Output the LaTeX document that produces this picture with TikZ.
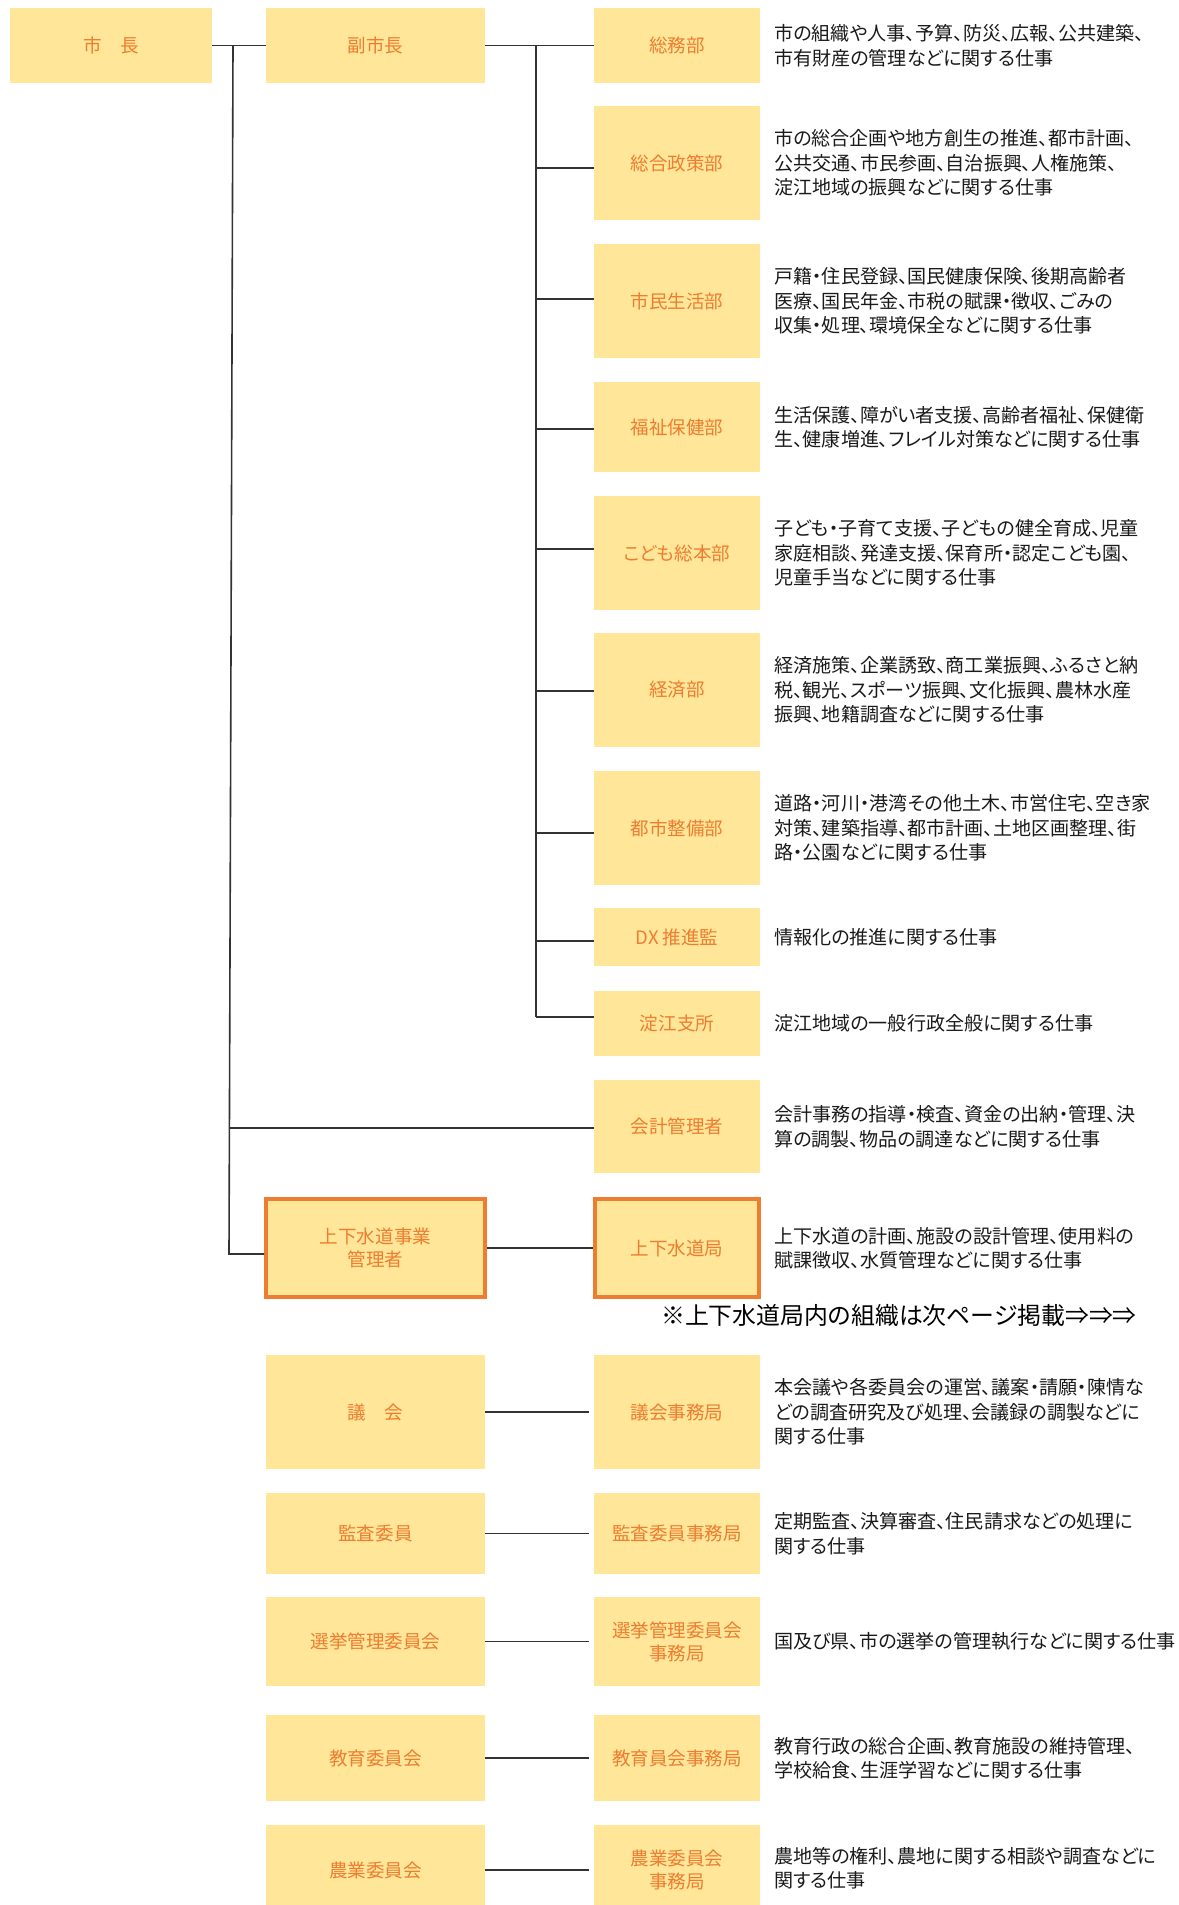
\documentclass[tikz,border=0pt]{standalone}
\usepackage{fontspec}
\setmainfont{Noto Sans CJK JP}[RawFeature=+palt]
\newfontfamily\jp{Noto Sans CJK JP}[RawFeature=+palt]
\definecolor{boxfill}{HTML}{FFE699}
\definecolor{orangetxt}{HTML}{ED7D31}
\definecolor{linec}{HTML}{333333}
\definecolor{desctxt}{HTML}{1A1A1A}
\tikzset{
  ybox/.style={fill=boxfill, draw=none, inner sep=0pt, align=center, text=orangetxt, font=\jp\fontsize{13.9pt}{17.3pt}\selectfont},
  sz/.style 2 args={minimum width={#1*0.75pt}, minimum height={#2*0.75pt}},
  obox/.style={ybox, draw=orangetxt, line width=3pt},
  desc/.style={anchor=west, inner sep=0pt, align=left, text=desctxt, font=\jp\fontsize{14.3pt}{18.4pt}\selectfont},
  conn/.style={draw=linec, line width=1.2pt},
}
\begin{document}
\begin{tikzpicture}[x=0.75pt,y=-0.75pt]
\useasboundingbox (0,0) rectangle (1178,1905);

% top level
\node[ybox, sz={202}{75}] (shicho) at (111,45.5) {市　長};
\node[ybox, sz={219}{75}] (fuku) at (375.5,45.5) {副市長};

% departments
\node[ybox, sz={166}{75}]  (d1) at (677,45.5) {総務部};
\node[ybox, sz={166}{114}] (d2) at (677,163) {総合政策部};
\node[ybox, sz={166}{114}] (d3) at (677,301) {市民生活部};
\node[ybox, sz={166}{90}]  (d4) at (677,427) {福祉保健部};
\node[ybox, sz={166}{114}] (d5) at (677,553) {こども総本部};
\node[ybox, sz={166}{114}] (d6) at (677,690) {経済部};
\node[ybox, sz={166}{114}] (d7) at (677,828) {都市整備部};
\node[ybox, sz={166}{58}]  (d8) at (677,937) {DX 推進監};
\node[ybox, sz={166}{65}]  (d9) at (677,1023.5) {淀江支所};
\node[ybox, sz={166}{93}]  (kaikei) at (677,1126.5) {会計管理者};
\node[obox, sz={164}{98}]  (suido) at (677,1248) {上下水道局};
\node[obox, sz={219}{98}]  (mgr) at (375.5,1248) {上下水道事業\\管理者};

% committees
\node[ybox, sz={219}{114}] (c1) at (375.5,1412) {議　会};
\node[ybox, sz={166}{114}] (e1) at (677,1412) {議会事務局};
\node[ybox, sz={219}{81}]  (c2) at (375.5,1533.5) {監査委員};
\node[ybox, sz={166}{81}]  (e2) at (677,1533.5) {監査委員事務局};
\node[ybox, sz={219}{89}]  (c3) at (375.5,1641.5) {選挙管理委員会};
\node[ybox, sz={166}{89}]  (e3) at (677,1641.5) {選挙管理委員会\\事務局};
\node[ybox, sz={219}{86}]  (c4) at (375.5,1758) {教育委員会};
\node[ybox, sz={166}{86}]  (e4) at (677,1758) {教育員会事務局};
\node[ybox, sz={219}{90}]  (c5) at (375.5,1870) {農業委員会};
\node[ybox, sz={166}{90}]  (e5) at (677,1870) {農業委員会\\事務局};

% descriptions
\node[desc] (t1) at (774,45.5) {市の組織や人事、予算、防災、広報、公共建築、\\市有財産の管理などに関する仕事};
\node[desc] (t2) at (774,163) {市の総合企画や地方創生の推進、都市計画、\\公共交通、市民参画、自治振興、人権施策、\\淀江地域の振興などに関する仕事};
\node[desc] (t3) at (774,301) {戸籍・住民登録、国民健康保険、後期高齢者\\医療、国民年金、市税の賦課・徴収、ごみの\\収集・処理、環境保全などに関する仕事};
\node[desc] (t4) at (774,427) {生活保護、障がい者支援、高齢者福祉、保健衛\\生、健康増進、フレイル対策などに関する仕事};
\node[desc] (t5) at (774,553) {子ども・子育て支援、子どもの健全育成、児童\\家庭相談、発達支援、保育所・認定こども園、\\児童手当などに関する仕事};
\node[desc] (t6) at (774,690) {経済施策、企業誘致、商工業振興、ふるさと納\\税、観光、スポーツ振興、文化振興、農林水産\\振興、地籍調査などに関する仕事};
\node[desc] (t7) at (774,828) {道路・河川・港湾その他土木、市営住宅、空き家\\対策、建築指導、都市計画、土地区画整理、街\\路・公園などに関する仕事};
\node[desc] (t8) at (774,937) {情報化の推進に関する仕事};
\node[desc] (t9) at (774,1023.5) {淀江地域の一般行政全般に関する仕事};
\node[desc] (t10) at (774,1126.5) {会計事務の指導・検査、資金の出納・管理、決\\算の調製、物品の調達などに関する仕事};
\node[desc] (t11) at (774,1248) {上下水道の計画、施設の設計管理、使用料の\\賦課徴収、水質管理などに関する仕事};
\node[desc] (t12) at (774,1412) {本会議や各委員会の運営、議案・請願・陳情な\\どの調査研究及び処理、会議録の調製などに\\関する仕事};
\node[desc] (t13) at (774,1533.5) {定期監査、決算審査、住民請求などの処理に\\関する仕事};
\node[desc] (t14) at (774,1641.5) {国及び県、市の選挙の管理執行などに関する仕事};
\node[desc] (t15) at (774,1758) {教育行政の総合企画、教育施設の維持管理、\\学校給食、生涯学習などに関する仕事};
\node[desc] (t16) at (774,1868) {農地等の権利、農地に関する相談や調査などに\\関する仕事};

% note
\node[inner sep=0pt, text=black, font=\jp\fontsize{17.9pt}{21pt}\selectfont] (note) at (899,1315) {※上下水道局内の組織は次ページ掲載⇒⇒⇒};

% connectors: mayor
\coordinate (j0) at (233,46);
\coordinate (jk) at (229,1128);
\coordinate (jb) at (229,1254);
\draw[conn] (shicho.east) -- (fuku.west);
\draw[conn] (j0) -- (jb) -- (jb -| mgr.west);
\draw[conn] (jk) -- (jk -| kaikei.west);

% connectors: vice mayor spine
\coordinate (s1) at (536,45.5);
\coordinate (s2) at (536,168);
\coordinate (s3) at (536,299);
\coordinate (s4) at (536,429);
\coordinate (s5) at (536,549);
\coordinate (s6) at (536,691);
\coordinate (s7) at (536,833);
\coordinate (s8) at (536,941);
\coordinate (s9) at (536,1017);
\draw[conn] (fuku.east) -- (d1.west);
\draw[conn] (s1) -- (s9);
\draw[conn] (s2) -- (s2 -| d2.west);
\draw[conn] (s3) -- (s3 -| d3.west);
\draw[conn] (s4) -- (s4 -| d4.west);
\draw[conn] (s5) -- (s5 -| d5.west);
\draw[conn] (s6) -- (s6 -| d6.west);
\draw[conn] (s7) -- (s7 -| d7.west);
\draw[conn] (s8) -- (s8 -| d8.west);
\draw[conn] (s9) -- (s9 -| d9.west);

% water works
\draw[conn] (mgr.east) -- (suido.west);

% committees
\draw[conn, shorten >=3.75pt] (c1.east) -- (e1.west);
\draw[conn, shorten >=3.75pt] (c2.east) -- (e2.west);
\draw[conn, shorten >=3.75pt] (c3.east) -- (e3.west);
\draw[conn, shorten >=3.75pt] (c4.east) -- (e4.west);
\draw[conn, shorten >=3.75pt] (c5.east) -- (e5.west);
\end{tikzpicture}
\end{document}
